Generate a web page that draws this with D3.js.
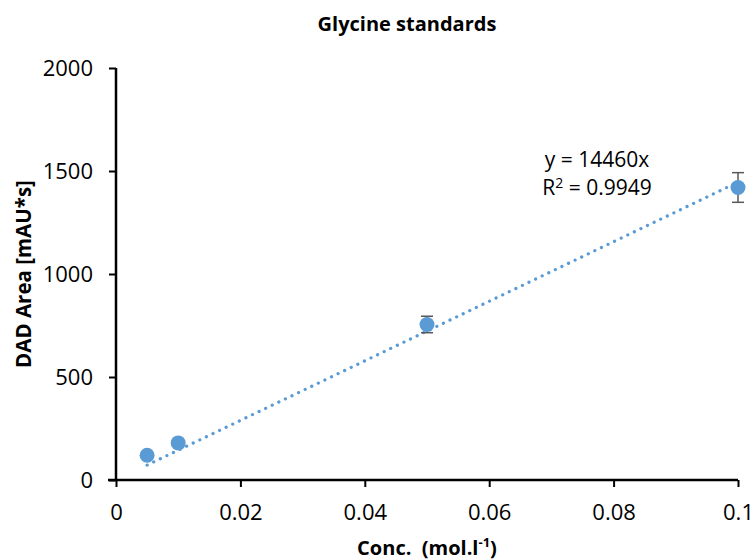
<!DOCTYPE html>
<html>
<head>
<meta charset="utf-8">
<script src="https://cdn.jsdelivr.net/npm/d3@7"></script>
<style>
  body { margin: 0; background: #fff; }
  text { font-family: "Open Sans", sans-serif; fill: #000; }
</style>
</head>
<body>
<div id="chart"></div>
<script>
// data
const concs = [0.005, 0.01, 0.05, 0.1];
const areas = [120, 180, 755, 1420];
const errs = [6, 8, 40, 72];
const slope = 14460;
const r2 = 0.9949;
const xTicks = [0, 0.02, 0.04, 0.06, 0.08, 0.1];
const yTicks = [0, 500, 1000, 1500, 2000];

const width = 753, height = 560;
const blue = '#5b9bd5';

const svg = d3.select('#chart').append('svg')
  .attr('width', width)
  .attr('height', height);

const x = d3.scaleLinear().domain([0, 0.1]).range([116, 738]);
const y = d3.scaleLinear().domain([0, 2000]).range([480, 68]);

// axes
const xAxis = svg.append('g')
  .attr('transform', `translate(0,${y(0)})`)
  .call(d3.axisBottom(x).tickValues(xTicks).tickSize(7).tickPadding(17)
    .tickFormat(d => String(+d.toFixed(2))));
const yAxis = svg.append('g')
  .attr('transform', `translate(${x(0)},0)`)
  .call(d3.axisLeft(y).tickValues(yTicks).tickSize(7).tickPadding(16)
    .tickFormat(d => String(d)));

[xAxis, yAxis].forEach(g => {
  g.select('.domain').attr('stroke', '#000').attr('stroke-width', 2.5);
  g.selectAll('.tick line').attr('stroke', '#000').attr('stroke-width', 2);
  g.selectAll('.tick text').style('font-size', '22px').attr('fill', '#000');
});
xAxis.select('.domain').attr('d', `M${x(0) - 8},0H${x(0.1)}`);
yAxis.select('.domain').attr('d', `M0,${y(2000)}V${y(0)}`);

// trendline
svg.append('line')
  .attr('x1', x(concs[0])).attr('y1', y(slope * concs[0]))
  .attr('x2', x(concs[concs.length - 1])).attr('y2', y(slope * concs[concs.length - 1]))
  .attr('stroke', blue)
  .attr('stroke-width', 3.2)
  .attr('stroke-linecap', 'round')
  .attr('stroke-dasharray', '0.1 7.2');

// error bars
const pts = concs.map((c, i) => ({ c, a: areas[i], e: errs[i] }));
const eb = svg.append('g').selectAll('g').data(pts).enter().append('g')
  .attr('stroke', '#595959').attr('stroke-width', 1.5);
eb.append('line')
  .attr('x1', d => x(d.c)).attr('x2', d => x(d.c))
  .attr('y1', d => y(d.a - d.e)).attr('y2', d => y(d.a + d.e));
eb.append('line')
  .attr('x1', d => x(d.c) - 6).attr('x2', d => x(d.c) + 6)
  .attr('y1', d => y(d.a - d.e)).attr('y2', d => y(d.a - d.e));
eb.append('line')
  .attr('x1', d => x(d.c) - 6).attr('x2', d => x(d.c) + 6)
  .attr('y1', d => y(d.a + d.e)).attr('y2', d => y(d.a + d.e));

// points
svg.append('g').selectAll('circle').data(pts).enter().append('circle')
  .attr('cx', d => x(d.c))
  .attr('cy', d => y(d.a))
  .attr('r', 7.5)
  .attr('fill', blue);

// equation label, two separate lines
const eqX = 597;
svg.append('text')
  .attr('x', eqX).attr('y', 167)
  .attr('text-anchor', 'middle')
  .style('font-size', '21px')
  .text(`y = ${slope}x`);
const r2t = svg.append('text')
  .attr('x', eqX).attr('y', 195)
  .attr('text-anchor', 'middle')
  .style('font-size', '21px');
r2t.append('tspan').text('R');
r2t.append('tspan').attr('dy', -7).style('font-size', '14px').text('2');
r2t.append('tspan').attr('dy', 7).text(` = ${r2}`);

// title
svg.append('text')
  .attr('x', 407).attr('y', 31)
  .attr('text-anchor', 'middle')
  .style('font-size', '20px').style('font-weight', 'bold')
  .text('Glycine standards');

// y title
svg.append('text')
  .attr('transform', `translate(31,${(y(0) + y(2000)) / 2}) rotate(-90)`)
  .attr('text-anchor', 'middle')
  .style('font-size', '20.5px').style('font-weight', 'bold')
  .text('DAD Area [mAU*s]');

// x title
const xt = svg.append('text')
  .attr('x', 427).attr('y', 555)
  .attr('text-anchor', 'middle')
  .style('font-size', '20px').style('font-weight', 'bold');
xt.append('tspan').text('Conc.\u00a0\u00a0(mol.l');
xt.append('tspan').attr('dy', -8).style('font-size', '13px').text('-1');
xt.append('tspan').attr('dy', 8).text(')');
</script>
</body>
</html>
